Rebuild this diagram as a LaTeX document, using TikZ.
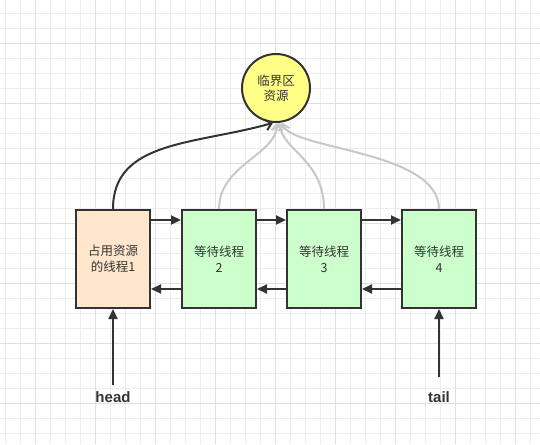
\documentclass[tikz,border=0pt]{standalone}
\usepackage{fontspec}
\setmainfont{Noto Sans CJK SC}
\newfontfamily\labelfont{Liberation Sans}
\usetikzlibrary{arrows.meta}
\definecolor{inkgray}{HTML}{333333}
\definecolor{waitgreen}{HTML}{CCFFCC}
\definecolor{ownorange}{HTML}{FFE6CC}
\definecolor{resyellow}{HTML}{FFFF88}
\definecolor{curvegray}{HTML}{C8C8C8}
\tikzset{
  thread/.style={draw=inkgray, line width=2pt, minimum width=74pt, minimum height=98pt,
    align=center, text=inkgray, font=\fontsize{12.5}{16}\selectfont},
  owner/.style={thread, fill=ownorange},
  waiter/.style={thread, fill=waitgreen},
  resource/.style={circle, draw=inkgray, line width=2pt, fill=resyellow, minimum size=68pt,
    inner sep=0pt, align=center, text=inkgray, font=\fontsize{12.5}{15}\selectfont},
  link/.style={draw=inkgray, line width=2pt, -{Triangle[length=10pt,width=9pt]}},
  grab/.style={draw=inkgray, line width=2pt, -{Straight Barb[length=6pt,width=11pt]}},
  want/.style={draw=curvegray, line width=2pt, -{Straight Barb[length=6pt,width=11pt]}},
  pointer/.style={text=inkgray, font=\labelfont\bfseries\fontsize{15}{18}\selectfont}
}
\begin{document}
\begin{tikzpicture}[x=1pt, y=-1pt] % {{{
\pgfmathsetmacro{\upshift}{39}
\pgfmathsetmacro{\downshift}{30}
\useasboundingbox (0,0) rectangle (540,444);
\fill[white] (0,0) rectangle (540,444);
% Rejilla {{{
\foreach \x in {5.7,20.7,...,540} {
  \draw[black!7, line width=1pt] (\x,0) -- (\x,444);
}
\foreach \y in {13.3,28.3,...,444} {
  \draw[black!7, line width=1pt] (0,\y) -- (540,\y);
}
\foreach \x in {35.7,95.7,...,540} {
  \draw[black!12, line width=1pt] (\x,0) -- (\x,444);
}
\foreach \y in {43.3,103.3,...,444} {
  \draw[black!12, line width=1pt] (0,\y) -- (540,\y);
}
% }}}
% Nodos {{{
\node[resource] (res) at (276,88) {临界区\\资源};
\node[owner] (t1) at (113,259) {占用资源\\的线程1};
\node[waiter] (t2) at (219,259) {等待线程\\2};
\node[waiter] (t3) at (324,259) {等待线程\\3};
\node[waiter] (t4) at (439,259) {等待线程\\4};
\node[pointer] (head) at (113,397) {head};
\node[pointer] (tail) at (439,397) {tail};
\coordinate (headend) at (113,385);
\coordinate (tailend) at (439,377);
% }}}
% Enlaces {{{
\foreach \a/\b in {t1/t2,t2/t3,t3/t4} {
  \draw[link] ([yshift=\upshift pt]\a.east) -- ([yshift=\upshift pt]\b.west);
  \draw[link] ([yshift=-\downshift pt]\b.west) -- ([yshift=-\downshift pt]\a.east);
}
\draw[link] (headend) -- (t1.south);
\draw[link] (tailend) -- (t4.south);
% }}}
% Curvas {{{
\draw[want] (t2.north) .. controls (219,165) and (276,155) .. (res.272);
\draw[want] (t3.north) .. controls (324,160) and (282,150) .. (res.276);
\draw[want] (t4.north) .. controls (439,150) and (290,150) .. (res.280);
\draw[grab] (t1.north) .. controls (113,140) and (195,145) .. (res.265);
% }}}
\end{tikzpicture} % }}}
\end{document}
